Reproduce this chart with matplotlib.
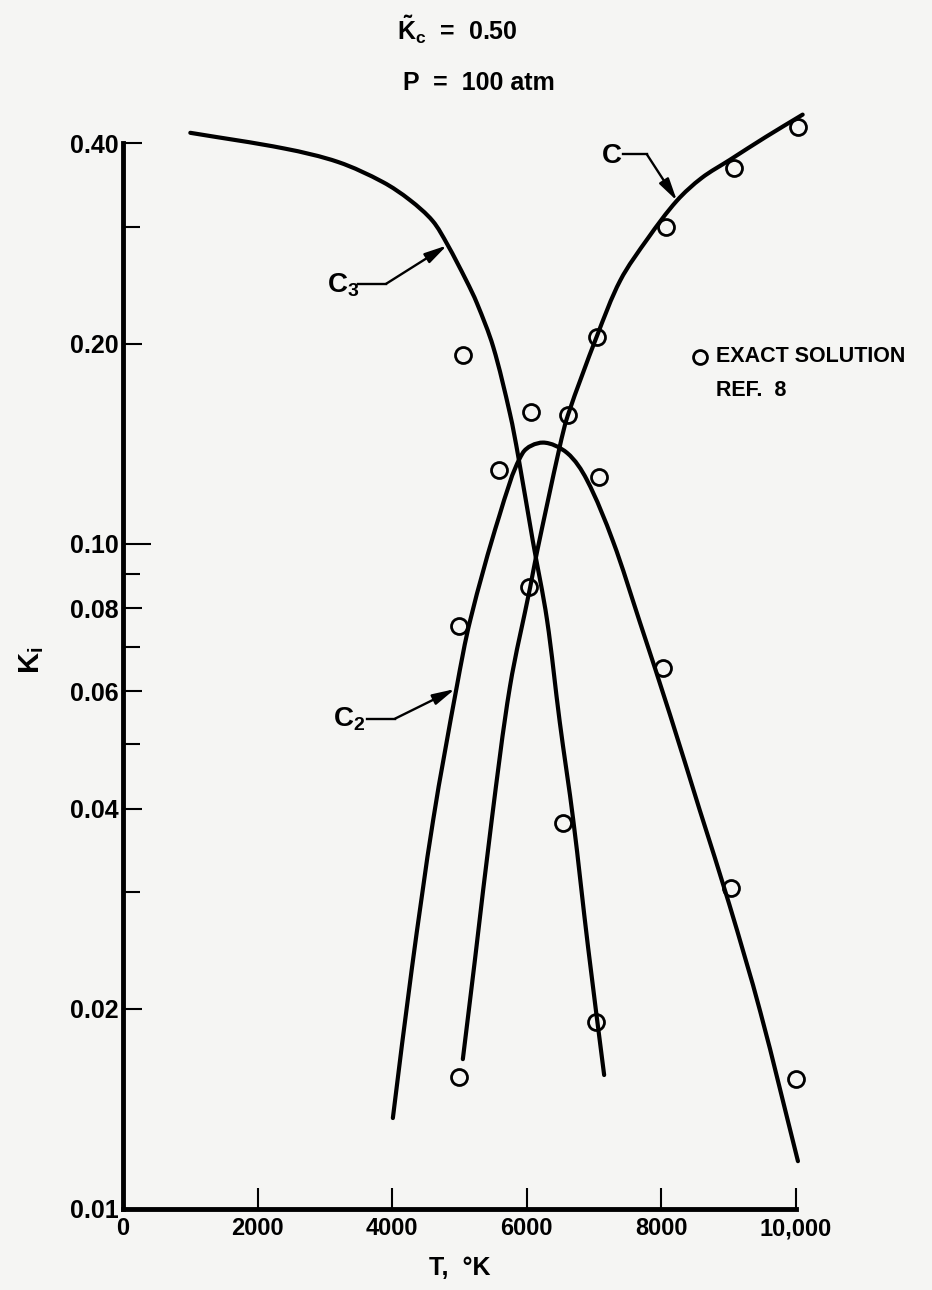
import matplotlib
matplotlib.use('Agg')
import numpy as np
import matplotlib.pyplot as plt
from matplotlib import font_manager
from matplotlib.path import Path
from matplotlib.patches import PathPatch
from matplotlib.ticker import NullFormatter

# ---- data ----
t_c3 = [1000, 2400, 3200, 3860, 4260, 4600, 4820, 5100, 5260, 5500, 5750, 5870, 6090, 6300, 6490, 6690, 6910, 7150]
k_c3 = [0.415, 0.393, 0.375, 0.350, 0.329, 0.306, 0.282, 0.249, 0.230, 0.198, 0.157, 0.136, 0.101, 0.077, 0.054, 0.0385, 0.0248, 0.0159]

t_c = [5050, 5230, 5480, 5750, 6050, 6150, 6490, 6610, 7040, 7390, 7800, 8230, 8600, 9020, 9550, 10100]
k_c = [0.0168, 0.0237, 0.0385, 0.061, 0.086, 0.097, 0.140, 0.156, 0.205, 0.249, 0.288, 0.328, 0.355, 0.378, 0.409, 0.442]

t_c2 = [4010, 4290, 4610, 4960, 5160, 5590, 5940, 6240, 6600, 6890, 7280, 7680, 8130, 8570, 9010, 9470, 10030]
k_c2 = [0.0137, 0.0229, 0.0385, 0.061, 0.0768, 0.110, 0.137, 0.142, 0.137, 0.125, 0.101, 0.0763, 0.0553, 0.0398, 0.0287, 0.0198, 0.0118]

# exact solution, ref. 8
t_ex = [5050, 5000, 5000, 5580, 6060, 6030, 6610, 6540, 7040, 7080, 7030, 8020, 8070, 9030, 9080, 10030, 10000]
k_ex = [0.192, 0.0753, 0.0158, 0.129, 0.158, 0.0861, 0.156, 0.038, 0.205, 0.126, 0.0191, 0.0651, 0.300, 0.0304, 0.367, 0.423, 0.0157]

y_major = [0.40, 0.20, 0.10, 0.08, 0.06, 0.04, 0.02, 0.01]
y_major_lbl = ['0.40', '0.20', '0.10', '0.08', '0.06', '0.04', '0.02', '0.01']
y_minor = [0.30, 0.09, 0.07, 0.05, 0.03]
x_ticks = [0, 2000, 4000, 6000, 8000, 10000]
x_lbl = ['0', '2000', '4000', '6000', '8000', '10,000']


def smooth_curve(ax, t, k, **kw):
    # hand-drawn look: cubic bezier pieces through the read points (in T, log K space)
    x = np.asarray(t, float) / 10000 * 673
    y = np.log10(k) * 665
    p = np.column_stack([x, y])
    d = np.hypot(*np.diff(p, axis=0).T)
    m = np.zeros_like(p)
    m[1:-1] = (p[2:] - p[:-2]) / (d[:-1] + d[1:])[:, None]
    m[0] = (p[1] - p[0]) / d[0]
    m[-1] = (p[-1] - p[-2]) / d[-1]
    verts = [p[0]]
    codes = [Path.MOVETO]
    for i in range(len(p) - 1):
        verts += [p[i] + m[i] * d[i] / 3, p[i + 1] - m[i + 1] * d[i] / 3, p[i + 1]]
        codes += [Path.CURVE4] * 3
    v = np.array(verts)
    v = np.column_stack([v[:, 0] / 673 * 10000, 10 ** (v[:, 1] / 665)])
    ax.add_patch(PathPatch(Path(v, codes), fill=False, clip_on=False, **kw))


# ---- fonts ----
names = {f.name for f in font_manager.fontManager.ttflist}
reg = 'Liberation Sans' if 'Liberation Sans' in names else 'DejaVu Sans'
plt.rcParams['font.family'] = [reg, 'DejaVu Sans']
plt.rcParams['font.weight'] = 'bold'
plt.rcParams['axes.labelweight'] = 'bold'
plt.rcParams['mathtext.fontset'] = 'custom'
plt.rcParams['mathtext.rm'] = reg + ':bold'
plt.rcParams['mathtext.bf'] = reg + ':bold'
plt.rcParams['mathtext.it'] = reg + ':bold'
plt.rcParams['mathtext.default'] = 'bf'

bg = '#f5f5f3'
fig = plt.figure(figsize=(9.32, 12.9), dpi=100, facecolor=bg)
ax = fig.add_axes([0.132, 0.0628, 0.722, 0.826])
ax.set_facecolor(bg)

for tt, kk in [(t_c3, k_c3), (t_c, k_c), (t_c2, k_c2)]:
    smooth_curve(ax, tt, kk, lw=3, ec='k', capstyle='round')
ax.plot(t_ex, k_ex, 'o', ms=11.5, mfc='none', mec='k', mew=2, clip_on=False, zorder=3)

ax.set_yscale('log')
ax.set_xlim(0, 10000)
ax.set_ylim(0.01, 0.40)
ax.set_yticks(y_major, y_major_lbl)
ax.set_yticks(y_minor, [''] * len(y_minor), minor=True)
ax.yaxis.set_minor_formatter(NullFormatter())
ax.set_xticks(x_ticks, x_lbl)

for s in ['top', 'right']:
    ax.spines[s].set_visible(False)
for s in ['left', 'bottom']:
    ax.spines[s].set_linewidth(3.5)

ax.tick_params(axis='both', which='both', direction='in', width=1.5, labelsize=17, color='k')
ax.tick_params(axis='y', which='major', length=14, pad=3, labelsize=18)
ax.tick_params(axis='y', which='minor', length=12)
ax.tick_params(axis='x', which='major', length=15, pad=6)
# 0.10 tick is drawn a bit longer
ax.yaxis.get_major_ticks()[2].tick1line.set_markersize(20)
ax.xaxis.get_major_ticks()[0].tick1line.set_visible(False)

ax.set_ylabel(r'$K_i$', fontsize=21, rotation=90)
ax.yaxis.set_label_coords(-0.115, 0.515)
ax.set_xlabel('T,  \u00b0K', fontsize=18)
ax.xaxis.set_label_coords(0.5, -0.044)

# curve labels with leaders
arr = dict(arrowstyle='-|>,head_length=0.9,head_width=0.22', lw=1.7, color='k',
           mutation_scale=15, shrinkA=0, shrinkB=0)

ax.text(3031, 0.2388, r'$C_3$', fontsize=20, ha='left', va='baseline')
ax.plot([3492, 3908], [0.246, 0.246], 'k-', lw=1.7, clip_on=False)
ax.annotate('', xy=(4814, 0.281), xytext=(3908, 0.246), arrowprops=arr)

ax.text(3120, 0.0531, r'$C_2$', fontsize=20, ha='left', va='baseline')
ax.plot([3626, 4042], [0.0546, 0.0546], 'k-', lw=1.7, clip_on=False)
ax.annotate('', xy=(4933, 0.0605), xytext=(4042, 0.0546), arrowprops=arr)

ax.text(7117, 0.3743, 'C', fontsize=20, ha='left', va='baseline')
ax.plot([7429, 7786], [0.385, 0.385], 'k-', lw=1.7, clip_on=False)
ax.annotate('', xy=(8232, 0.328), xytext=(7786, 0.385), arrowprops=arr,
            annotation_clip=False)

# header
fig.text(0.426, 0.9695, r'$\tilde{K}_c$  =  0.50', fontsize=18, ha='left', va='baseline')
fig.text(0.432, 0.9305, 'P  =  100 atm', fontsize=18, ha='left', va='baseline')

# legend note
fig.lines.append(plt.Line2D([700 / 932], [1 - 357 / 1290], transform=fig.transFigure,
                            marker='o', ms=10, mfc='none', mec='k', mew=2, ls='none'))
fig.text(716 / 932, 1 - 357 / 1290, 'EXACT SOLUTION', fontsize=15.5, ha='left', va='center')
fig.text(716 / 932, 1 - 391 / 1290, 'REF.  8', fontsize=15.5, ha='left', va='center')

fig.savefig('out.png', dpi=100, facecolor=bg)
